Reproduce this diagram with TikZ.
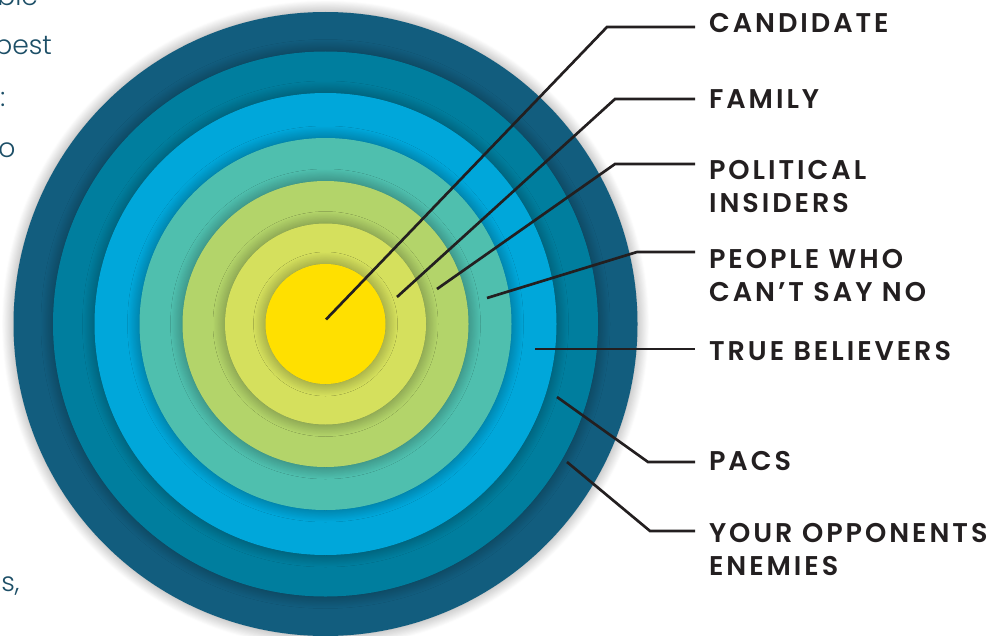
\documentclass[tikz,border=0pt]{standalone}
\usepackage{fontspec}
\usetikzlibrary{shadows.blur}

\newfontfamily\labelfont{Poppins SemiBold}[LetterSpace=11]
\newfontfamily\pagefont{Poppins Light}

\definecolor{coreyellow}{HTML}{FFE000}
\definecolor{palelime}{HTML}{D5E05D}
\definecolor{lime}{HTML}{B3D46A}
\definecolor{seagreen}{HTML}{4FBFAE}
\definecolor{skyblue}{HTML}{00A7DA}
\definecolor{petrol}{HTML}{007E9E}
\definecolor{navyteal}{HTML}{125D7E}
\definecolor{inkgray}{HTML}{231F20}
\definecolor{pagetext}{HTML}{1D4F67}

\begin{document}
\begin{tikzpicture}[x=0.75pt,y=-0.75pt,
  ring/.style={circle,inner sep=0pt,blur shadow={shadow xshift=0pt,shadow yshift=0pt,shadow blur radius=9pt,shadow blur steps=40,shadow opacity=40}},
  lbl/.style={anchor=base west,align=left,inner sep=0pt,outer xsep=10.5pt,text=inkgray,font=\labelfont\fontsize{20.3}{24.75}\selectfont},
  leader/.style={draw=inkgray,line width=2pt},
  page/.style={anchor=base west,inner sep=0pt,text=pagetext,font=\pagefont\fontsize{20}{38}\selectfont}]
  \useasboundingbox (0,0) rectangle (1002,635);
  \clip (0,0) rectangle (1002,635);
  % cut-off lines of the page text on the left
  \node[page] (ble) at (-3,6) {ble};
  \node[page] (best) at (-6,55) {best};
  \node[page] (colon) at (0,106) {:};
  \node[page] (oo) at (-2,157) {o};
  \node[page] (scomma) at (1,591) {s,};
  % the rings, outside in
  \node[ring,fill=navyteal,minimum size=468] (enemies) at (325.5,324) {};
  \node[ring,fill=petrol,minimum size=408.75] (pacs) at (325.5,324) {};
  \node[ring,fill=skyblue,minimum size=346.5] (believers) at (325.5,324) {};
  \node[ring,fill=seagreen,minimum size=279] (cantsay) at (325.5,324) {};
  \node[ring,fill=lime,minimum size=214.5] (insiders) at (325.5,324) {};
  \node[ring,fill=palelime,minimum size=150.75] (family) at (325.5,324) {};
  \node[ring,fill=coreyellow,minimum size=90] (candidate) at (325.5,324) {};
  % labels (base = last line)
  \node[lbl] (lC) at (695,32.3) {CANDIDATE};
  \node[lbl] (lF) at (695,108.3) {FAMILY};
  \node[lbl] (lP) at (695,212.7) {POLITICAL\\INSIDERS};
  \node[lbl] (lN) at (695,301) {PEOPLE WHO\\CAN’T SAY NO};
  \node[lbl] (lT) at (695,360.7) {TRUE BELIEVERS};
  \node[lbl] (lA) at (695,470) {PACS};
  \node[lbl] (lY) at (695,575.7) {YOUR OPPONENTS\\ENEMIES};
  % leader lines
  \coordinate (pC) at (326,319.5);
  \coordinate (kC) at (607,27);
  \coordinate (pF) at (397,297);
  \coordinate (kF) at (615,99);
  \coordinate (pP) at (437,289);
  \coordinate (kP) at (615,164);
  \coordinate (pN) at (487,298);
  \coordinate (kN) at (637,252);
  \coordinate (pT) at (535,349);
  \coordinate (pA) at (557,397);
  \coordinate (kA) at (648,462);
  \coordinate (pY) at (567,462);
  \coordinate (kY) at (650,531);
  \draw[leader] (pC) -- (kC) -- (kC -| lC.west);
  \draw[leader] (pF) -- (kF) -- (kF -| lF.west);
  \draw[leader] (pP) -- (kP) -- (kP -| lP.west);
  \draw[leader] (pN) -- (kN) -- (kN -| lN.west);
  \draw[leader] (pT) -- (pT -| lT.west);
  \draw[leader] (pA) -- (kA) -- (kA -| lA.west);
  \draw[leader] (pY) -- (kY) -- (kY -| lY.west);
\end{tikzpicture}
\end{document}
